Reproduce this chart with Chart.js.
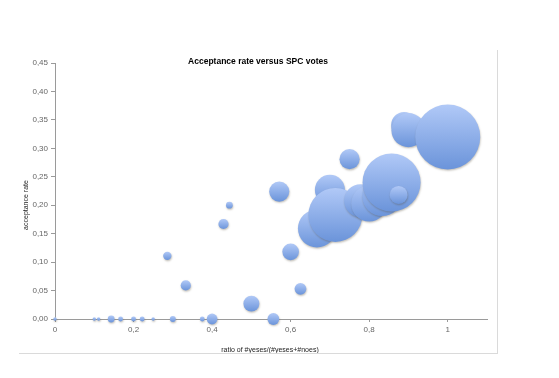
<!DOCTYPE html>
<html>
<head>
<meta charset="utf-8">
<script src="https://cdn.jsdelivr.net/npm/chart.js@4.4.1/dist/chart.umd.min.js"></script>
<style>
    body { margin: 0; background: #fff; }
    #frame {
        position: absolute;
        left: 19px;
        top: 50px;
        width: 478px;
        height: 303px;
        border-right: 1px solid #dadada;
        border-bottom: 1px solid #dadada;
    }
</style>
</head>
<body>
<div id="frame"><canvas id="bubble-chart" width="478" height="303"></canvas></div>
<script>
// ratio of #yeses/(#yeses+#noes)
const voteRatios = [0, 0.1, 0.111, 0.143, 0.167, 0.2, 0.222, 0.25, 0.286, 0.3, 0.333, 0.375, 0.4, 0.429, 0.444,
    0.5, 0.556, 0.571, 0.6, 0.625, 0.667, 0.7, 0.714, 0.75, 0.778, 0.8, 0.833, 0.857, 0.875, 0.889, 0.9, 1.0];
// acceptance rate
const acceptRates = [0, 0, 0, 0, 0, 0, 0, 0, 0.111, 0, 0.059, 0, 0, 0.167, 0.2,
    0.027, 0, 0.224, 0.118, 0.053, 0.159, 0.227, 0.183, 0.281, 0.208, 0.203, 0.216, 0.240, 0.218, 0.341, 0.332, 0.320];
// bubble size (relative number of papers)
const paperCounts = [1, 1, 1, 4, 2, 2, 2, 1, 6, 3, 9, 2, 10, 9, 4,
    22, 12, 35, 24, 12, 125, 78, 252, 35, 94, 112, 138, 291, 28, 58, 100, 365];

const xTicks = [0, 0.2, 0.4, 0.6, 0.8, 1];

const MAX_RADIUS = 32.5;
const maxCount = Math.max(...paperCounts);

function radiusFor(count) {
    // Excel-style: bubble area proportional to size value
    return MAX_RADIUS * Math.sqrt(count / maxCount);
}

function commaNumber(v, digits) {
    return v.toFixed(digits).replace('.', ',');
}

const points = voteRatios.map((x, i) => ({
    x: x,
    y: acceptRates[i],
    r: radiusFor(paperCounts[i])
}));

// Shadow under the bubbles
const bubbleShadow = {
    id: 'bubbleShadow',
    beforeDatasetsDraw(chart) {
        const ctx = chart.ctx;
        ctx.save();
        ctx.shadowColor = 'rgba(90, 80, 60, 0.35)';
        ctx.shadowBlur = 2;
        ctx.shadowOffsetX = 0.5;
        ctx.shadowOffsetY = 1.2;
    },
    afterDatasetsDraw(chart) {
        chart.ctx.restore();
    }
};

// Chart title and axis titles
const titles = {
    id: 'titles',
    afterDraw(chart) {
        const ctx = chart.ctx;
        ctx.save();
        ctx.fillStyle = '#000';
        ctx.textAlign = 'center';
        ctx.textBaseline = 'middle';
        ctx.font = 'bold 8.5px "Liberation Sans", Arial, sans-serif';
        ctx.fillText('Acceptance rate versus SPC votes', 239, 12);

        ctx.fillStyle = '#222';
        ctx.font = '7px "Liberation Sans", Arial, sans-serif';
        ctx.fillText('ratio of #yeses/(#yeses+#noes)', 251, 300);

        ctx.translate(7, 155);
        ctx.rotate(-Math.PI / 2);
        ctx.fillText('acceptance rate', 0, 0);
        ctx.restore();
    }
};

function bubbleFill(context) {
    const chart = context.chart;
    const raw = context.raw;
    const fallback = '#86a8e6';
    if (!raw || !chart.scales.y) return fallback;
    const cy = chart.scales.y.getPixelForValue(raw.y);
    if (!Number.isFinite(cy) || !Number.isFinite(raw.r)) return fallback;
    const g = chart.ctx.createLinearGradient(0, cy - raw.r, 0, cy + raw.r);
    g.addColorStop(0, '#b1c9f7');
    g.addColorStop(1, '#6b94da');
    return g;
}

const tickFont = { family: '"Liberation Sans", Arial, sans-serif', size: 8 };

new Chart(document.getElementById('bubble-chart').getContext('2d'), {
    type: 'bubble',
    data: {
        datasets: [{
            data: points,
            backgroundColor: bubbleFill,
            borderWidth: 0,
            hoverBorderWidth: 0
        }]
    },
    options: {
        responsive: false,
        animation: false,
        events: [],
        clip: false,
        layout: {
            autoPadding: false,
            padding: { top: 13, right: 10, left: 0, bottom: 0 }
        },
        plugins: {
            legend: { display: false },
            tooltip: { enabled: false }
        },
        scales: {
            x: {
                type: 'linear',
                min: 0,
                max: 1.1,
                afterFit: (scale) => { scale.height = 34; },
                afterBuildTicks: (scale) => {
                    scale.ticks = xTicks.map(v => ({ value: v }));
                },
                border: { display: true, color: '#9a9a9a', width: 1 },
                grid: { drawOnChartArea: false, drawTicks: true, tickLength: 3, color: '#9a9a9a' },
                ticks: {
                    font: tickFont,
                    color: '#666',
                    padding: 3,
                    maxRotation: 0,
                    callback: (v) => commaNumber(Math.round(v * 10) / 10, v === 0 || v === 1 ? 0 : 1)
                }
            },
            y: {
                type: 'linear',
                min: 0,
                max: 0.45,
                afterFit: (scale) => { scale.width = 36; },
                border: { display: true, color: '#9a9a9a', width: 1 },
                grid: { drawOnChartArea: false, drawTicks: true, tickLength: 4, color: '#9a9a9a' },
                ticks: {
                    stepSize: 0.05,
                    font: tickFont,
                    color: '#666',
                    padding: 3,
                    callback: (v) => commaNumber(v, 2)
                }
            }
        }
    },
    plugins: [bubbleShadow, titles]
});
</script>
</body>
</html>
